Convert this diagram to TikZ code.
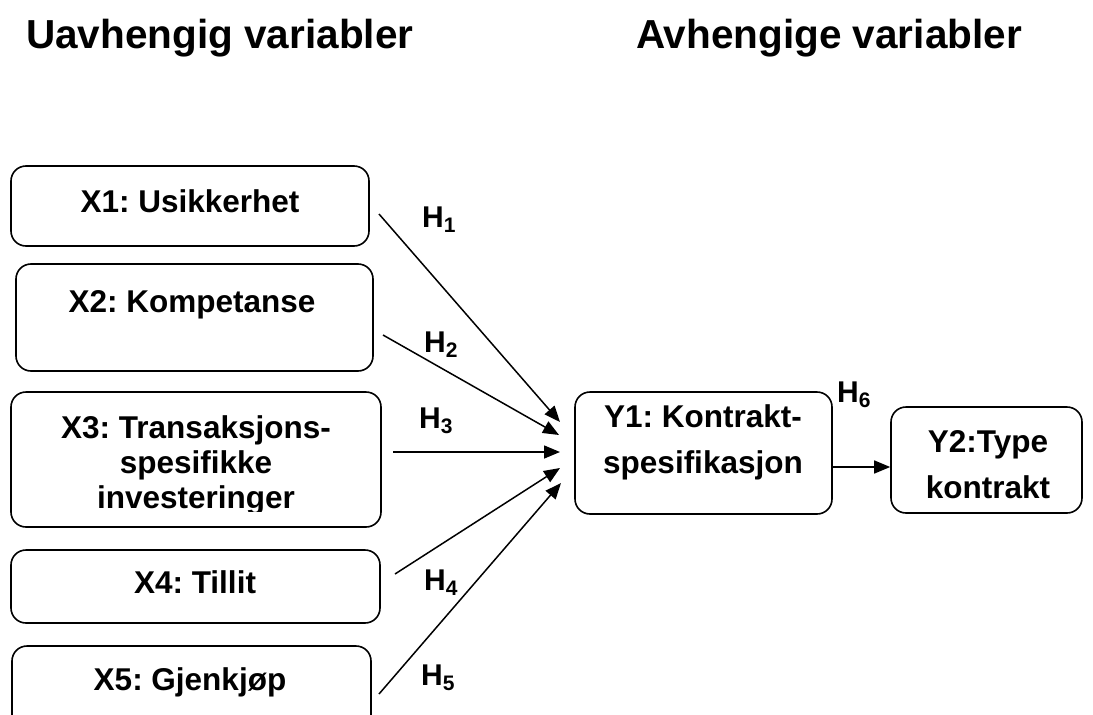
\documentclass[tikz,border=0pt]{standalone}
\usepackage{fontspec}
\setmainfont{Liberation Sans}
\usetikzlibrary{arrows.meta}
\frenchspacing
\newcommand{\Hlab}[1]{H\raisebox{-5pt}{\fontsize{21}{21}\selectfont #1}}
\begin{document}
\begin{tikzpicture}[x=1pt,y=-1pt,
  box/.style={draw, line width=1.6pt, rounded corners=15pt, inner sep=0pt},
  txt/.style={font=\bfseries\fontsize{31.5}{35}\selectfont, inner sep=0pt, align=center, anchor=base},
  ytxt/.style={font=\bfseries\fontsize{31.5}{46}\selectfont, inner sep=0pt, align=center, anchor=base},
  hlab/.style={font=\bfseries\fontsize{30}{30}\selectfont, inner sep=0pt, anchor=base west},
  ttl/.style={font=\bfseries\fontsize{40.5}{44}\selectfont, inner sep=0pt, anchor=base west},
  arr/.style={line width=1.5pt, -{Triangle[length=16pt,width=13pt]}}]
\useasboundingbox (0,0) rectangle (1093,715);
\clip (0,0) rectangle (1093,715);

\node[ttl] (t1) at (26,48) {Uavhengig variabler};
\node[ttl] (t2) at (636,48) {Avhengige variabler};

% boxes
\node[box, minimum width=358pt, minimum height=80pt] (x1) at (190,206) {};
\node[box, minimum width=357pt, minimum height=107pt] (x2) at (194.5,317.5) {};
\node[box, minimum width=370pt, minimum height=135pt] (x3) at (196,459.5) {};
\node[box, minimum width=369pt, minimum height=73pt] (x4) at (195.5,586.5) {};
\node[box, minimum width=359pt, minimum height=84pt] (x5) at (191.5,688) {};
\node[box, minimum width=257pt, minimum height=122pt] (y1) at (703.5,453) {};
\node[box, minimum width=191pt, minimum height=106pt] (y2) at (986.5,460) {};

% texts (base anchor = baseline of last line)
\node[txt] (x1t) at (190,212) {X1: Usikkerhet};
\node[txt] (x2t) at (192,312) {X2: Kompetanse};
\begin{scope}
\clip (0,0) rectangle (1093,511);
\node[txt] (x3t) at (196,508) {X3: Transaksjons-\\spesifikke\\investeringer};
\end{scope}
\node[txt] (x4t) at (195,593) {X4: Tillit};
\node[txt] (x5t) at (190,690) {X5: Gjenkjøp};
\node[ytxt] (y1t) at (703,473) {Y1: Kontrakt-\\spesifikasjon};
\node[ytxt] (y2t) at (988,498) {Y2:Type\\kontrakt};

% labels
\node[hlab] (h1) at (422,227) {\Hlab{1}};
\node[hlab] (h2) at (424,352) {\Hlab{2}};
\node[hlab] (h3) at (419,428) {\Hlab{3}};
\node[hlab] (h4) at (424,590) {\Hlab{4}};
\node[hlab] (h5) at (421,685) {\Hlab{5}};
\node[hlab] (h6) at (837,402) {\Hlab{6}};

% arrow end points
\coordinate (s1) at (379,214);
\coordinate (e1) at (560,422);
\coordinate (s2) at (383,335);
\coordinate (e2) at (559,435);
\coordinate (s3) at (393,452);
\coordinate (e3) at (560,452);
\coordinate (s4) at (395,574);
\coordinate (e4) at (560,468);
\coordinate (s5) at (379,694);
\coordinate (e5) at (561,483);
\coordinate (l6) at (0,467);

\draw[arr] (s1) -- (e1);
\draw[arr] (s2) -- (e2);
\draw[arr] (s3) -- (e3);
\draw[arr] (s4) -- (e4);
\draw[arr] (s5) -- (e5);
\draw[arr] (y1.east |- l6) -- (y2.west |- l6);
\end{tikzpicture}
\end{document}
